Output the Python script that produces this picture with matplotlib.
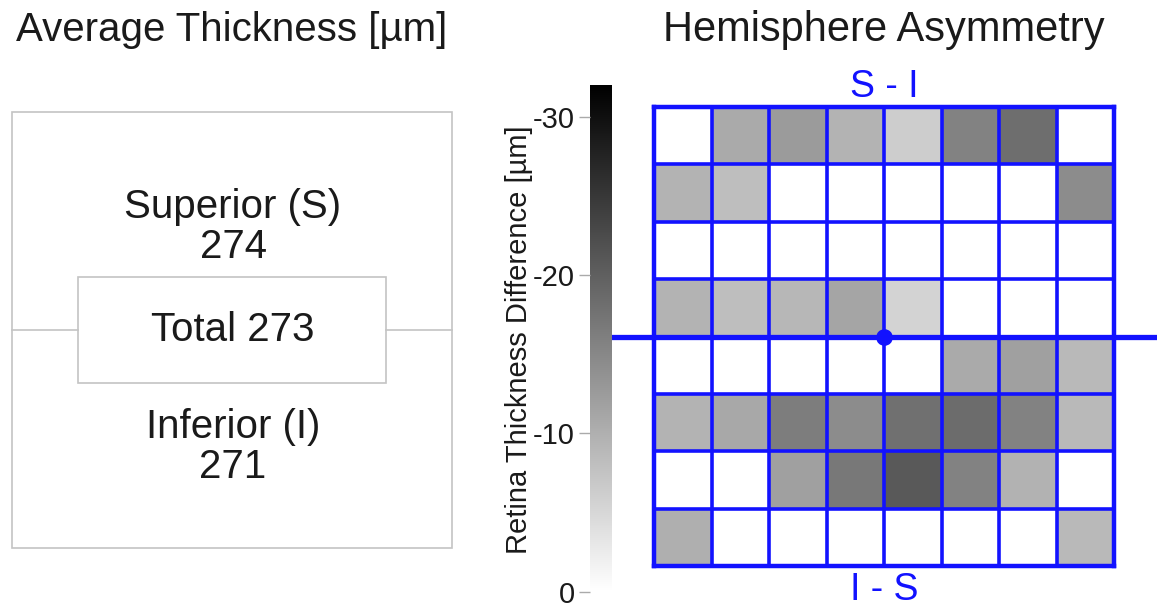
import numpy as np
import matplotlib
matplotlib.use('Agg')
import matplotlib.pyplot as plt
from matplotlib.patches import Rectangle

plt.rcParams['font.family'] = ['Liberation Sans', 'DejaVu Sans']

# average thickness values [um]
superior = 274
total = 273
inferior = 271

# hemisphere asymmetry grid, row 0 = top (values are magnitude of difference, um)
asym = np.array([
    [0.0, 10.7, 12.5, 9.4, 6.3, 15.7, 18.2, 0.0],
    [9.4, 8.2, 0.0, 0.0, 0.0, 0.0, 0.0, 14.4],
    [0.0, 0.0, 0.0, 0.0, 0.0, 0.0, 0.0, 0.0],
    [9.4, 8.2, 9.0, 11.3, 5.6, 0.0, 0.0, 0.0],
    [0.0, 0.0, 0.0, 0.0, 0.0, 10.7, 11.9, 8.8],
    [9.4, 10.9, 16.3, 14.4, 17.9, 18.4, 15.7, 8.8],
    [0.0, 0.0, 11.9, 16.9, 20.7, 15.7, 9.7, 0.0],
    [10.0, 0.0, 0.0, 0.0, 0.0, 0.0, 0.0, 8.8],
])
cbar_ticks = [0, 10, 20, 30]
cbar_labels = ['0', '-10', '-20', '-30']

W, H = 1157, 609
fig = plt.figure(figsize=(W / 100, H / 100), dpi=100)

# background axes in pixel units for the left panel
bg = fig.add_axes([0, 0, 1, 1])
bg.set_xlim(0, W)
bg.set_ylim(H, 0)
bg.axis('off')

box_col = '#c4c4c4'
txt_col = '#1a1a1a'
bg.add_patch(Rectangle((12, 112), 440, 436, fill=False, ec=box_col, lw=1.2))
bg.add_patch(Rectangle((78, 277), 308, 106, fill=False, ec=box_col, lw=1.2))
bg.plot([12, 78], [330, 330], color=box_col, lw=1.2)
bg.plot([386, 452], [330, 330], color=box_col, lw=1.2)

bg.text(16, 30, 'Average Thickness [µm]', fontsize=29, color=txt_col, ha='left', va='center')
bg.text(884, 30, 'Hemisphere Asymmetry', fontsize=30, color=txt_col, ha='center', va='center')

bg.text(233, 207, 'Superior (S)', fontsize=29, color=txt_col, ha='center', va='center')
bg.text(233, 247, str(superior), fontsize=29, color=txt_col, ha='center', va='center')
bg.text(233, 330, f'Total {total}', fontsize=29, color=txt_col, ha='center', va='center')
bg.text(233, 427, 'Inferior (I)', fontsize=29, color=txt_col, ha='center', va='center')
bg.text(233, 467, str(inferior), fontsize=29, color=txt_col, ha='center', va='center')

blue = '#1212ff'
bg.text(884, 87, 'S - I', fontsize=27, color=blue, ha='center', va='center')
bg.text(884, 590, 'I - S', fontsize=27, color=blue, ha='center', va='center')

# grid panel
ax = fig.add_axes([654 / W, 1 - 566 / H, 460 / W, 459 / H])
nrow, ncol = asym.shape
im = ax.imshow(asym, cmap='gray_r', vmin=0, vmax=32, aspect='auto',
               extent=(0, ncol, nrow, 0), interpolation='nearest')
ax.vlines(range(1, ncol), 0, nrow, color=blue, lw=2.6)
ax.hlines(range(1, nrow), 0, ncol, color=blue, lw=2.6)
for s in ax.spines.values():
    s.set_color(blue)
    s.set_linewidth(3.2)
ax.set_xticks([])
ax.set_yticks([])
ax.set_xlim(0, ncol)
ax.set_ylim(nrow, 0)
# hemisphere divider and centre dot
ax.axhline(nrow / 2, xmin=(612 - 654) / 460, xmax=(W - 654) / 460,
           color=blue, lw=3.8, clip_on=False)
ax.plot(ncol / 2, nrow / 2, 'o', color=blue, ms=11, clip_on=False)

# colorbar
cax = fig.add_axes([590 / W, 1 - 595 / H, 22 / W, (595 - 85) / H])
cb = fig.colorbar(im, cax=cax)
cb.outline.set_visible(False)
cax.yaxis.set_ticks_position('left')
cax.set_yticks(cbar_ticks)
cax.set_yticklabels(cbar_labels)
cax.tick_params(axis='y', length=8, width=1, color='#aaaaaa', pad=3,
                labelsize=21, labelcolor=txt_col)
cax.set_ylim(-0.2, 32)
fig.text(519 / W, 1 - 340 / H, 'Retina Thickness Difference [µm]', rotation=90,
         fontsize=21, color=txt_col, ha='center', va='center')

fig.savefig('out.png', dpi=100)
